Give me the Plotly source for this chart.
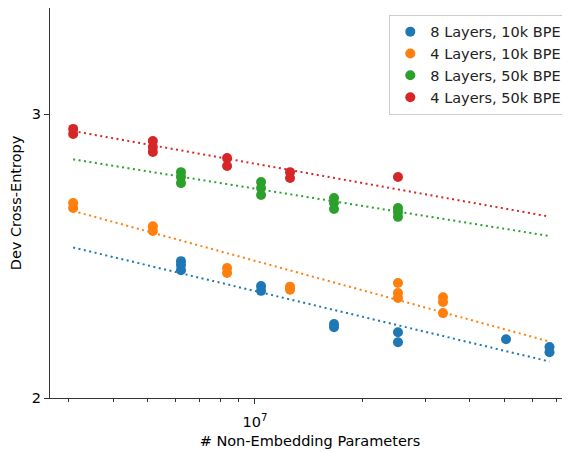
import plotly.graph_objects as go

# ---- data ----
series_names = ["8 Layers, 10k BPE", "4 Layers, 10k BPE", "8 Layers, 50k BPE", "4 Layers, 50k BPE"]
series_colors = ["#1f77b4", "#ff7f0e", "#2ca02c", "#d62728"]

blue_x = [6.20e6, 6.20e6, 6.20e6, 1.04e7, 1.04e7, 1.666e7, 1.666e7, 2.518e7, 2.518e7, 5.06e7, 6.7e7, 6.7e7]
blue_y = [2.432, 2.419, 2.401, 2.347, 2.331, 2.223, 2.213, 2.197, 2.166, 2.175, 2.151, 2.135]

orange_x = [3.09e6, 3.09e6, 5.17e6, 5.17e6, 8.35e6, 8.35e6, 1.254e7, 1.254e7, 2.518e7, 2.518e7, 2.518e7, 3.368e7, 3.368e7, 3.368e7]
orange_y = [2.643, 2.624, 2.556, 2.539, 2.408, 2.391, 2.345, 2.335, 2.357, 2.324, 2.307, 2.310, 2.294, 2.258]

green_x = [6.20e6, 6.20e6, 6.20e6, 1.04e7, 1.04e7, 1.04e7, 1.666e7, 1.666e7, 1.666e7, 2.518e7, 2.518e7, 2.518e7]
green_y = [2.762, 2.743, 2.719, 2.723, 2.700, 2.673, 2.662, 2.643, 2.620, 2.624, 2.609, 2.591]

red_x = [3.09e6, 3.09e6, 5.17e6, 5.17e6, 5.17e6, 8.35e6, 8.35e6, 1.254e7, 1.254e7, 2.518e7]
red_y = [2.938, 2.917, 2.888, 2.863, 2.843, 2.818, 2.786, 2.762, 2.739, 2.743]

# fitted power-law lines (endpoints)
fit_x = [3.09e6, 6.7e7]
blue_fit_y = [2.480, 2.107]
orange_fit_y = [2.613, 2.168]
green_fit_y = [2.813, 2.521]
red_fit_y = [2.929, 2.592]

x_major_ticks = [1e7]
x_major_text = ["10<sup>7</sup>"]
x_minor_ticks = [3e6, 4e6, 5e6, 6e6, 7e6, 8e6, 9e6, 2e7, 3e7, 4e7, 5e7, 6e7, 7e7]
y_ticks = [2, 3]
y_tick_text = ["2", "3"]

xs = [blue_x, orange_x, green_x, red_x]
ys = [blue_y, orange_y, green_y, red_y]
fits = [blue_fit_y, orange_fit_y, green_fit_y, red_fit_y]

FONT = "DejaVu Sans"
FS = 14.5

fig = go.Figure()

for i in range(4):
    fig.add_trace(go.Scatter(
        x=xs[i], y=ys[i], mode="markers", name=series_names[i],
        legendgroup=str(i),
        marker=dict(color=series_colors[i], size=10, line=dict(width=0)),
    ))
for i in range(4):
    fig.add_trace(go.Scatter(
        x=fit_x, y=fits[i], mode="lines", showlegend=False,
        line=dict(color=series_colors[i], width=2, dash="2px,3.5px"),
        hoverinfo="skip",
    ))

# the page body has an 8px margin, so the figure is 8px smaller and shifted
fig.update_layout(
    width=562, height=444,
    margin=dict(l=42, r=0, t=0, b=54),
    paper_bgcolor="white", plot_bgcolor="white",
    font=dict(family=FONT, size=FS, color="black"),
    showlegend=True,
    legend=dict(
        x=0.9948, y=0.9828, xanchor="right", yanchor="top",
        bgcolor="rgba(255,255,255,0.8)", bordercolor="#cccccc", borderwidth=1,
        font=dict(family=FONT, size=FS, color="#222222"),
        traceorder="grouped", tracegroupgap=0,
    ),
    xaxis=dict(
        type="log", range=[6.425, 7.8836], automargin=False,
        showgrid=False, zeroline=False,
        showline=True, linecolor="#333333", linewidth=1, mirror=True,
        tickmode="array", tickvals=x_major_ticks, ticktext=x_major_text,
        ticks="outside", ticklen=5, tickwidth=1, tickcolor="#333333",
        ticklabelstandoff=6,
        minor=dict(tickmode="array", tickvals=x_minor_ticks, ticks="outside",
                   ticklen=3, tickwidth=1, tickcolor="#333333", showgrid=False),
        tickfont=dict(family=FONT, size=FS, color="black"),
        title=dict(text="# Non-Embedding Parameters", standoff=6,
                   font=dict(family=FONT, size=FS, color="black")),
    ),
    yaxis=dict(
        type="log", range=[0.30103, 0.5431], automargin=False,
        showgrid=False, zeroline=False,
        showline=True, linecolor="#333333", linewidth=1, mirror=False,
        tickmode="array", tickvals=y_ticks, ticktext=y_tick_text,
        ticks="outside", ticklen=5, tickwidth=1, tickcolor="#333333",
        tickfont=dict(family=FONT, size=FS, color="black"),
        title=dict(text="Dev Cross-Entropy", standoff=9,
                   font=dict(family=FONT, size=FS, color="black")),
    ),
)

fig.write_html("out.html")
